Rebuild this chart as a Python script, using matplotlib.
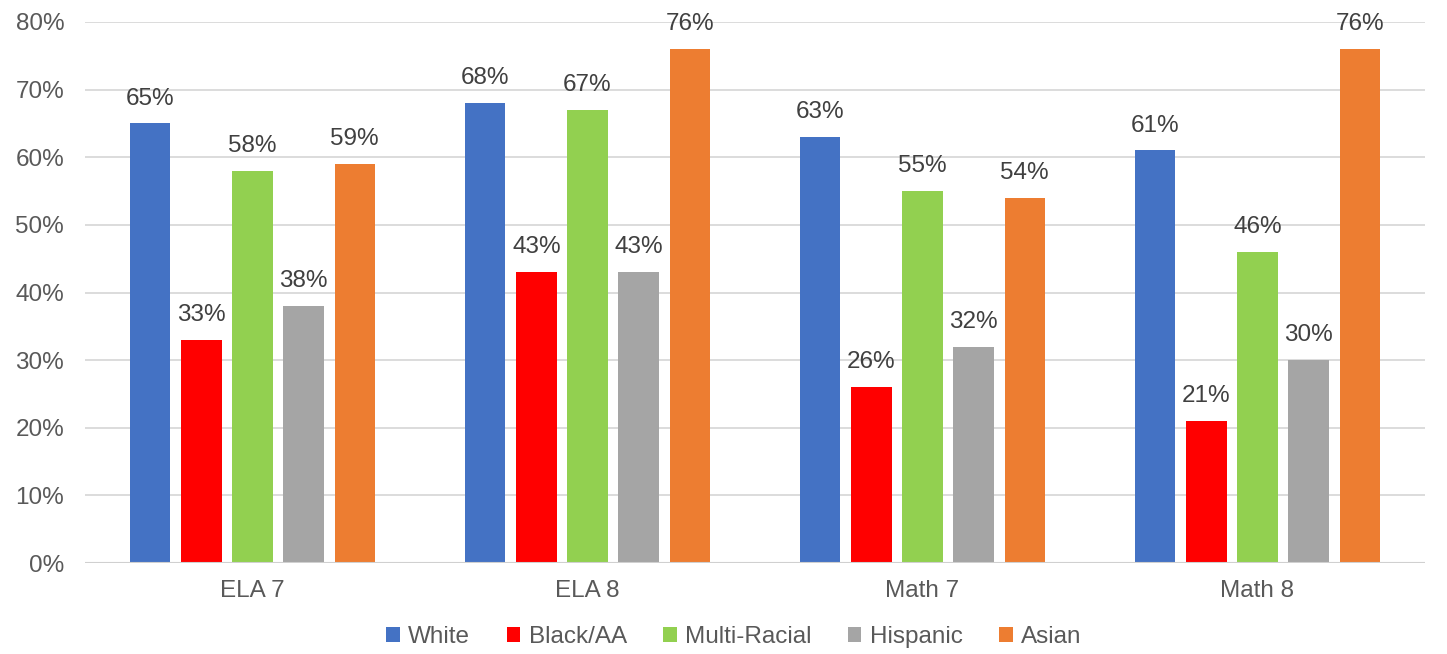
import matplotlib
matplotlib.use("Agg")
import matplotlib.pyplot as plt
import numpy as np

categories = ["ELA 7", "ELA 8", "Math 7", "Math 8"]
series_names = ["White", "Black/AA", "Multi-Racial", "Hispanic", "Asian"]
white = [65, 68, 63, 61]
black_aa = [33, 43, 26, 21]
multi_racial = [58, 67, 55, 46]
hispanic = [38, 43, 32, 30]
asian = [59, 76, 54, 76]
colors = ["#4472C4", "#FF0000", "#92D050", "#A5A5A5", "#ED7D31"]
y_ticks = [0, 10, 20, 30, 40, 50, 60, 70, 80]
y_tick_labels = [f"{v}%" for v in y_ticks]

series = [white, black_aa, multi_racial, hispanic, asian]

plt.rcParams['font.family'] = ['Liberation Sans', 'DejaVu Sans']
FS = 17.5

fig = plt.figure(figsize=(14.47, 6.54), dpi=100)
ax = fig.add_axes([85/1447, 1-563/654, (1425-85)/1447, (563-22)/654])

x = np.arange(len(categories))
pitch = 0.1525
width = 0.12
for i, (name, vals, c) in enumerate(zip(series_names, series, colors)):
    pos = x + (i - 2) * pitch
    bars = ax.bar(pos, vals, width=width, color=c, label=name, zorder=3)
    for b, v in zip(bars, vals):
        ax.annotate(f"{v}%", (b.get_x() + b.get_width()/2, v),
                    xytext=(0, 10), textcoords="offset points",
                    ha="center", va="bottom", fontsize=FS, color="#404040")

ax.set_xlim(-0.5, 3.5)
ax.set_ylim(0, 80)
ax.set_yticks(y_ticks)
ax.set_yticklabels(y_tick_labels)
ax.set_xticks(x)
ax.set_xticklabels(categories)
ax.tick_params(axis="y", length=0, pad=15, labelsize=FS, labelcolor="#595959")
ax.tick_params(axis="x", length=0, pad=12, labelsize=FS, labelcolor="#595959")
ax.grid(axis="y", color="#D9D9D9", linewidth=1.3, zorder=0)
ax.set_axisbelow(True)
for s in ax.spines.values():
    s.set_visible(False)
ax.axhline(0, color="#D0D0D0", linewidth=1.5, zorder=4)

leg = fig.legend(loc="center", bbox_to_anchor=(734/1447, 1-637/654), ncol=5,
                 frameon=False, fontsize=FS, handlelength=0.55, handleheight=0.55,
                 handletextpad=0.35, columnspacing=1.5)
for t in leg.get_texts():
    t.set_color("#595959")

fig.savefig("out.png", dpi=100)
